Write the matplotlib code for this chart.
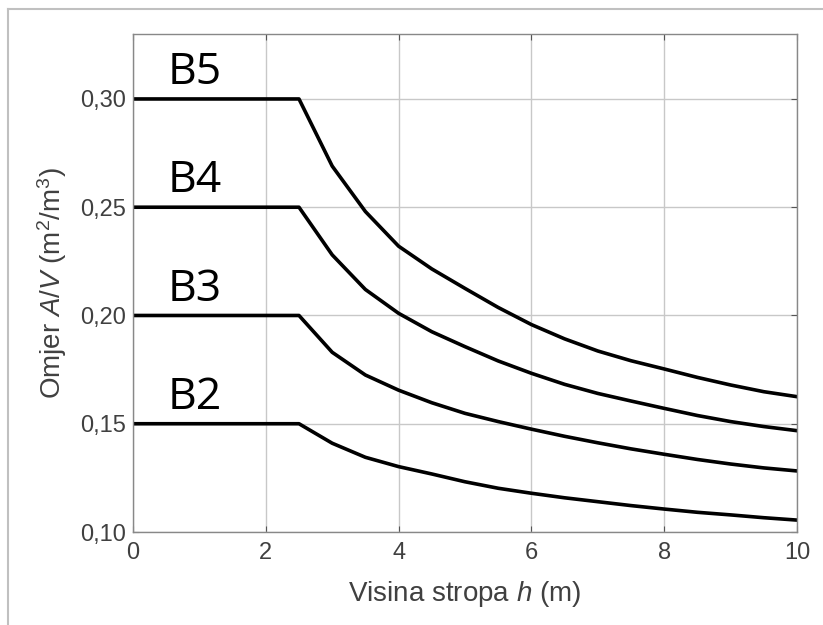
import matplotlib
matplotlib.use("Agg")
import matplotlib.pyplot as plt
from matplotlib.lines import Line2D
from matplotlib.ticker import FuncFormatter

plt.rcParams['font.family'] = ['Liberation Sans', 'DejaVu Sans']
plt.rcParams['mathtext.fontset'] = 'custom'
plt.rcParams['mathtext.rm'] = 'Liberation Sans'
plt.rcParams['mathtext.it'] = 'Liberation Sans:italic'

# visina stropa h (m)
h = [0, 2.5, 3, 3.5, 4, 4.5, 5, 5.5, 6, 6.5, 7, 7.5, 8, 8.5, 9, 9.5, 10]

# omjer A/V za razrede B2..B5 (ocitano sa slike)
b5 = [0.300, 0.300, 0.269, 0.248, 0.232, 0.2215, 0.2125, 0.2037, 0.1958, 0.1892,
      0.1836, 0.1791, 0.1753, 0.1714, 0.1679, 0.1648, 0.1625]
b4 = [0.250, 0.250, 0.228, 0.212, 0.201, 0.1925, 0.1856, 0.1790, 0.1733, 0.1682,
      0.164, 0.1605, 0.1571, 0.1538, 0.151, 0.1487, 0.1468]
b3 = [0.200, 0.200, 0.183, 0.1725, 0.1655, 0.1597, 0.1548, 0.151, 0.1475, 0.1442,
      0.1412, 0.1384, 0.1359, 0.1335, 0.1314, 0.1296, 0.1282]
b2 = [0.150, 0.150, 0.141, 0.1345, 0.1302, 0.1268, 0.1232, 0.1202, 0.1179, 0.1158,
      0.114, 0.1122, 0.1106, 0.1091, 0.1079, 0.1066, 0.1055]

names = ["B5", "B4", "B3", "B2"]
series = [b5, b4, b3, b2]

xticks = [0, 2, 4, 6, 8, 10]
yticks = [0.10, 0.15, 0.20, 0.25, 0.30]

fig = plt.figure(figsize=(8.23, 6.25), dpi=100)
ax = fig.add_axes([0.1616, 0.1488, 0.8068, 0.7968])

for name, vals in zip(names, series):
    ax.plot(h, vals, color='black', lw=2.6, solid_joinstyle='round')
    ax.text(0.52, vals[0] + 0.0068, name, fontsize=32, family='Open Sans',
            ha='left', va='baseline', color='black')

ax.set_xlim(0, 10)
ax.set_ylim(0.10, 0.33)
ax.set_xticks(xticks)
ax.set_yticks(yticks)
ax.yaxis.set_major_formatter(FuncFormatter(lambda v, p: f"{v:.2f}".replace('.', ',')))
ax.grid(True, color='#c8c8c8', lw=1.0)
ax.set_axisbelow(True)
ax.tick_params(direction='in', length=4, width=0.8, colors='#555555',
               labelsize=17, labelcolor='#404040', top=True, right=True,
               labeltop=False, labelright=False)
ax.tick_params(axis='y', pad=5)
ax.tick_params(axis='x', pad=7)
for s in ax.spines.values():
    s.set_color('#888888')
    s.set_linewidth(1.0)

ax.set_xlabel("Visina stropa $h$ (m)", fontsize=20, color='#404040')
ax.set_ylabel("Omjer $A/V$ (m$^2$/m$^3$)", fontsize=20, color='#404040')
ax.xaxis.set_label_coords(0.5, -0.094)
ax.yaxis.set_label_coords(-0.097, 0.5)

# sivi okvir slike
W, H = 823, 625
fig.add_artist(Line2D([8 / W, 1], [1 - 9 / H, 1 - 9 / H], color='#c0c0c0', lw=1.5,
                      transform=fig.transFigure))
fig.add_artist(Line2D([8 / W, 8 / W], [0, 1 - 9 / H], color='#c0c0c0', lw=1.5,
                      transform=fig.transFigure))

fig.savefig("out.png", dpi=100)
